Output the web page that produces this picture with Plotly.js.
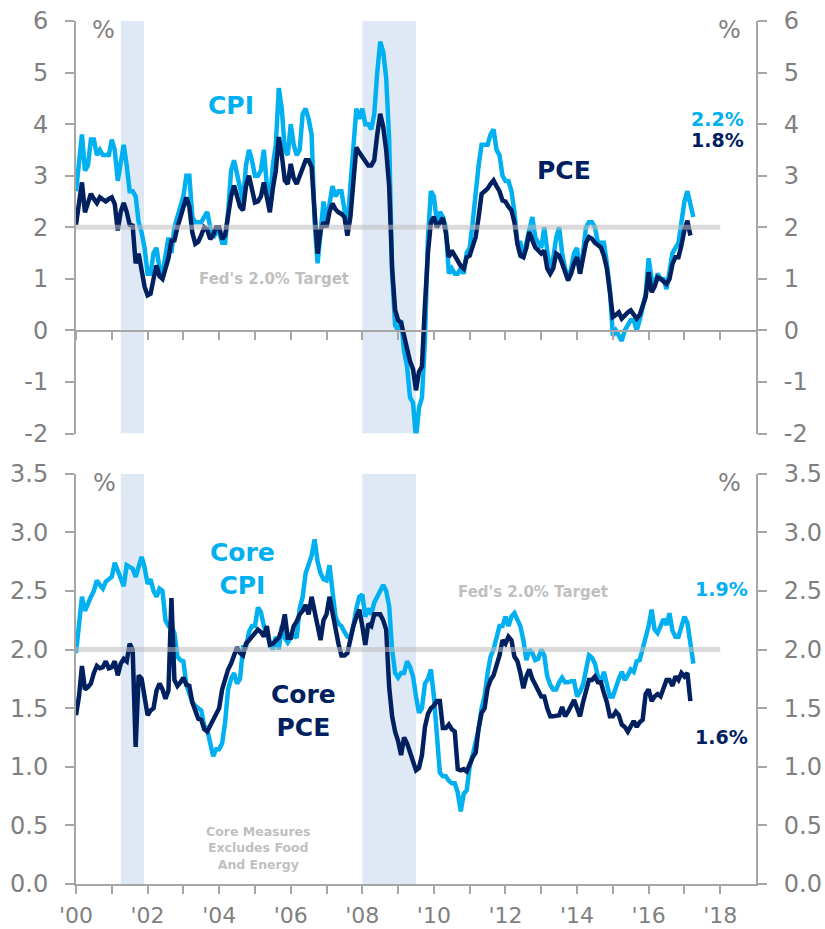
<!DOCTYPE html>
<html><head><meta charset="utf-8">
<script src="https://cdn.plot.ly/plotly-3.0.1.min.js"></script>
<style>html,body{margin:0;padding:0;background:#fff}#chart{width:825px;height:929px}</style>
</head><body><div id="chart"></div>
<script>
const startYear = 2000;

// Headline CPI, y/y %, monthly Jan 2000 - Apr 2017
const cpi = [
 2.7,3.2,3.8,3.1,3.2,3.7,3.7,3.4,3.5,3.4,3.4,3.4,
 3.7,3.5,2.9,3.3,3.6,3.2,2.7,2.7,2.6,2.1,1.9,1.6,
 1.1,1.1,1.5,1.6,1.2,1.1,1.5,1.8,1.5,2.0,2.2,2.4,
 2.6,3.0,3.0,2.2,2.1,2.1,2.1,2.2,2.3,2.0,1.8,1.9,
 1.9,1.7,1.7,2.3,3.1,3.3,3.0,2.7,2.5,3.2,3.5,3.3,
 3.0,3.0,3.1,3.5,2.8,2.5,3.2,3.6,4.7,4.3,3.5,3.4,
 4.0,3.6,3.4,3.5,4.2,4.3,4.1,3.8,2.1,1.3,2.0,2.5,
 2.1,2.4,2.8,2.6,2.7,2.7,2.4,2.0,2.8,3.5,4.3,4.1,
 4.3,4.0,4.0,3.9,4.2,5.0,5.6,5.4,4.9,3.7,1.1,0.1,
 0.0,0.2,-0.4,-0.7,-1.3,-1.4,-2.1,-1.5,-1.3,-0.2,1.8,2.7,
 2.6,2.1,2.3,2.2,2.0,1.1,1.2,1.1,1.1,1.2,1.1,1.5,
 1.6,2.1,2.7,3.2,3.6,3.6,3.6,3.8,3.9,3.5,3.4,3.0,
 2.9,2.9,2.7,2.3,1.7,1.7,1.4,1.7,2.0,2.2,1.8,1.7,
 1.6,2.0,1.5,1.1,1.4,1.8,2.0,1.5,1.2,1.0,1.2,1.5,
 1.6,1.1,1.5,2.0,2.1,2.1,2.0,1.7,1.7,1.7,1.3,0.8,
 -0.1,0.0,-0.1,-0.2,0.0,0.1,0.2,0.2,0.0,0.2,0.5,0.7,
 1.4,1.0,0.9,1.1,1.0,1.0,0.8,1.1,1.5,1.6,1.7,2.1,
 2.5,2.7,2.4,2.2
];

// Headline PCE, y/y %, monthly Jan 2000 - Mar 2017
const pce = [
 2.05,2.45,2.87,2.29,2.45,2.65,2.55,2.47,2.58,2.55,2.5,2.55,
 2.58,2.45,1.94,2.3,2.47,2.3,2.05,2.03,1.3,1.49,1.2,0.85,
 0.68,0.71,1.0,1.26,1.05,1.0,1.2,1.4,1.74,1.75,2.0,2.2,
 2.4,2.58,2.4,1.9,1.68,1.72,1.85,2.0,1.95,1.77,1.85,2.0,
 2.0,1.77,1.85,2.2,2.6,2.81,2.6,2.4,2.33,2.8,3.0,2.75,
 2.48,2.5,2.6,2.87,2.55,2.29,2.75,3.1,3.75,3.4,2.91,2.84,
 3.23,2.95,2.84,3.0,3.2,3.3,3.3,3.17,2.3,1.49,1.94,2.1,
 2.0,2.3,2.46,2.35,2.29,2.26,2.2,1.84,2.2,3.0,3.55,3.45,
 3.36,3.25,3.2,3.2,3.3,3.8,4.2,3.95,3.5,2.8,1.2,0.4,
 0.2,0.15,-0.1,-0.3,-0.6,-0.75,-1.16,-0.8,-0.7,0.5,1.5,2.1,
 2.2,2.0,2.1,2.18,1.9,1.42,1.55,1.45,1.35,1.25,1.2,1.42,
 1.45,1.6,1.81,2.2,2.65,2.7,2.75,2.84,2.91,2.8,2.7,2.52,
 2.5,2.4,2.33,2.1,1.68,1.45,1.42,1.6,1.91,1.75,1.61,1.55,
 1.49,1.55,1.2,1.1,1.2,1.49,1.45,1.3,1.1,0.97,1.1,1.3,
 1.42,1.1,1.4,1.7,1.81,1.78,1.7,1.65,1.61,1.45,1.2,0.75,
 0.26,0.3,0.35,0.23,0.3,0.35,0.39,0.3,0.23,0.3,0.45,0.65,
 1.13,0.74,0.85,1.03,1.0,0.95,0.9,1.0,1.29,1.42,1.42,1.65,
 1.95,2.13,1.84
];

// Core CPI, y/y %, monthly Jan 2000 - Apr 2017
const coreCpi = [
 1.97,2.2,2.45,2.33,2.4,2.45,2.5,2.59,2.55,2.52,2.58,2.6,
 2.62,2.74,2.68,2.6,2.54,2.72,2.7,2.69,2.62,2.7,2.79,2.7,
 2.56,2.6,2.5,2.45,2.52,2.5,2.25,2.2,2.2,2.14,1.94,1.91,
 1.9,1.7,1.63,1.55,1.52,1.5,1.48,1.35,1.32,1.2,1.09,1.15,
 1.15,1.2,1.38,1.66,1.75,1.8,1.71,1.75,2.02,2.02,2.15,2.2,
 2.2,2.36,2.32,2.2,2.14,2.05,2.0,2.11,2.0,2.2,2.1,2.06,
 2.1,2.12,2.1,2.35,2.45,2.65,2.72,2.8,2.94,2.75,2.65,2.6,
 2.59,2.72,2.5,2.28,2.22,2.2,2.15,2.11,2.1,2.2,2.35,2.45,
 2.47,2.28,2.35,2.3,2.4,2.45,2.5,2.55,2.5,2.37,2.0,1.8,
 1.76,1.8,1.8,1.9,1.85,1.77,1.6,1.46,1.5,1.71,1.75,1.83,
 1.6,1.29,0.95,0.92,0.92,0.88,0.86,0.86,0.78,0.62,0.77,0.8,
 1.0,1.1,1.2,1.32,1.5,1.6,1.8,1.94,2.0,2.1,2.2,2.2,
 2.28,2.2,2.28,2.31,2.25,2.2,2.08,1.91,2.0,1.97,1.91,1.92,
 2.0,1.95,1.77,1.7,1.66,1.66,1.72,1.76,1.72,1.72,1.73,1.73,
 1.6,1.64,1.7,1.82,1.95,1.93,1.88,1.77,1.72,1.81,1.72,1.6,
 1.6,1.69,1.75,1.81,1.74,1.78,1.83,1.81,1.9,1.91,2.0,2.1,
 2.2,2.34,2.17,2.14,2.2,2.26,2.21,2.31,2.16,2.11,2.11,2.2,
 2.28,2.23,2.03,1.88
];

// Core PCE, y/y %, monthly Jan 2000 - Mar 2017
const corePce = [
 1.44,1.6,1.86,1.66,1.68,1.71,1.8,1.86,1.84,1.85,1.9,1.84,
 1.85,1.9,1.78,1.88,1.92,1.9,2.05,2.0,1.17,1.78,1.75,1.6,
 1.44,1.48,1.5,1.65,1.71,1.66,1.58,1.65,2.44,1.74,1.69,1.72,
 1.76,1.7,1.69,1.55,1.48,1.41,1.4,1.32,1.3,1.35,1.38,1.43,
 1.5,1.66,1.75,1.83,1.88,1.94,2.02,1.97,1.95,2.05,2.08,2.12,
 2.15,2.17,2.15,2.11,2.2,2.04,2.05,2.07,2.1,2.17,2.3,2.1,
 2.1,2.2,2.24,2.3,2.33,2.38,2.3,2.45,2.32,2.2,2.08,2.25,
 2.3,2.45,2.3,2.17,2.05,1.95,1.95,1.97,2.1,2.2,2.28,2.34,
 2.2,2.04,2.22,2.2,2.3,2.3,2.3,2.25,2.17,1.68,1.43,1.3,
 1.22,1.1,1.25,1.2,1.12,1.05,0.97,0.99,1.1,1.34,1.45,1.5,
 1.52,1.56,1.56,1.33,1.33,1.36,1.32,1.3,0.98,0.97,0.98,0.96,
 1.03,1.08,1.12,1.33,1.46,1.5,1.67,1.74,1.78,1.86,1.95,2.08,
 2.05,2.11,2.08,1.94,1.9,1.8,1.67,1.77,1.83,1.75,1.69,1.65,
 1.6,1.6,1.5,1.43,1.43,1.44,1.44,1.51,1.43,1.47,1.52,1.57,
 1.5,1.43,1.55,1.63,1.74,1.74,1.77,1.72,1.72,1.63,1.55,1.43,
 1.43,1.47,1.44,1.36,1.34,1.30,1.35,1.39,1.34,1.38,1.4,1.62,
 1.66,1.56,1.6,1.62,1.6,1.66,1.74,1.74,1.69,1.77,1.74,1.8,
 1.77,1.8,1.56
];

const recessions = [[2001.25, 2001.9], [2008.0, 2009.5]];
const fedTarget = 2.0;
const targetEnd = 2018;
const tickYears = [2000,2001,2002,2003,2004,2005,2006,2007,2008,2009,2010,2011,2012,2013,2014,2015,2016,2017,2018];
const tickLabels = ["'00","","'02","","'04","","'06","","'08","","'10","","'12","","'14","","'16","","'18"];
const topTicks = [-2,-1,0,1,2,3,4,5,6];
const topTickText = ['-2','-1','0','1','2','3','4','5','6'];
const botTicks = [0,0.5,1,1.5,2,2.5,3,3.5];
const botTickText = ['0.0','0.5','1.0','1.5','2.0','2.5','3.0','3.5'];

const LIGHT = '#00b0f0', NAVY = '#002060', GRAY = '#7f7f7f', LGRAY = '#a6a6a6', NOTE = '#bfbfbf';
const FONT = 'DejaVu Sans, Verdana, sans-serif';

function months(n){ return Array.from({length:n}, (_, i) => startYear + i/12); }

function line(y, color, xa, ya){
  return {x: months(y.length), y: y, type:'scatter', mode:'lines', xaxis:xa, yaxis:ya,
    line:{color:color, width:4.5}, hoverinfo:'skip', showlegend:false};
}

const traces = [
  line(cpi, LIGHT, 'x2', 'y2'),
  line(pce, NAVY, 'x2', 'y2'),
  line(coreCpi, LIGHT, 'x', 'y'),
  line(corePce, NAVY, 'x', 'y'),
  {x:[2000], y:[null], xaxis:'x2', yaxis:'y3', type:'scatter', mode:'lines', showlegend:false, hoverinfo:'skip'},
  {x:[2000], y:[null], xaxis:'x', yaxis:'y4', type:'scatter', mode:'lines', showlegend:false, hoverinfo:'skip'}
];

// plot area pixel frame: left 76, right 756, top 21, bottom 884
const L=76, R=756, T=21, B=884;
function P(px, py){ return {x:(px-L)/(R-L), y:(B-py)/(B-T)}; }
function ann(text, px, py, size, color){
  const p = P(px, py);
  return {text:text, x:p.x, y:p.y, xref:'paper', yref:'paper', xanchor:'center', yanchor:'middle',
    showarrow:false, font:{family:FONT, size:size, color:color}};
}

const annotations = [
  ann('%', 103, 30, 24, GRAY), ann('%', 729, 30, 24, GRAY),
  ann('%', 104, 483, 24, GRAY), ann('%', 729, 483, 24, GRAY),
  ann('<b>CPI</b>', 231, 106, 25, LIGHT),
  ann('<b>PCE</b>', 564, 170, 25, NAVY),
  ann('<b>2.2%</b>', 717, 119, 19, LIGHT),
  ann('<b>1.8%</b>', 717, 140, 19, NAVY),
  ann("<b>Fed's 2.0% Target</b>", 274, 279, 15, NOTE),
  ann("<b>Fed's 2.0% Target</b>", 533, 592, 15, NOTE),
  ann('<b>Core<br>CPI</b>', 242, 569, 25, LIGHT),
  ann('<b>Core<br>PCE</b>', 303, 711, 25, NAVY),
  ann('<b>1.9%</b>', 721, 589, 19, LIGHT),
  ann('<b>1.6%</b>', 721, 737, 19, NAVY),
  ann('<b>Core Measures<br>Excludes Food<br>And Energy</b>', 258, 848, 12.5, NOTE)
];

const shapes = [];
recessions.forEach(r => {
  shapes.push({type:'rect', xref:'x2', yref:'y2', x0:r[0], x1:r[1], y0:-2, y1:6, fillcolor:'#dfe9f5', line:{width:0}, layer:'below'});
  shapes.push({type:'rect', xref:'x', yref:'y', x0:r[0], x1:r[1], y0:0, y1:3.5, fillcolor:'#dfe9f5', line:{width:0}, layer:'below'});
});
shapes.push({type:'line', xref:'x2', yref:'y2', x0:startYear, x1:targetEnd, y0:fedTarget, y1:fedTarget, line:{color:'rgba(190,190,190,0.55)', width:5}, layer:'above'});
shapes.push({type:'line', xref:'x', yref:'y', x0:startYear, x1:targetEnd, y0:fedTarget, y1:fedTarget, line:{color:'rgba(190,190,190,0.55)', width:5}, layer:'above'});

const topDom = [(B-433.6)/(B-T), 1];
const botDom = [0, (B-473.7)/(B-T)];
const zeroPos = (B-330.5)/(B-T);

const xCommon = {range:[2000,2019], tickmode:'array', tickvals:tickYears, ticks:'outside', ticklen:8, tickwidth:2,
  tickcolor:LGRAY, showline:true, linecolor:LGRAY, linewidth:2, showgrid:false, zeroline:false,
  tickfont:{family:FONT, size:22, color:GRAY}, fixedrange:true};
const yCommon = {ticks:'outside', ticklen:9, tickwidth:2, tickcolor:LGRAY, showline:true, linecolor:LGRAY, linewidth:2,
  showgrid:false, zeroline:false, tickfont:{family:FONT, size:24, color:GRAY}, ticklabelstandoff:12, tickmode:'array', fixedrange:true};

const layout = {
  width:825, height:929, margin:{l:L, r:825-R, t:T, b:929-B},
  paper_bgcolor:'#fff', plot_bgcolor:'#fff', font:{family:FONT},
  xaxis: Object.assign({}, xCommon, {anchor:'y', ticktext:tickLabels, showticklabels:true, ticklabelstandoff:3}),
  xaxis2: Object.assign({}, xCommon, {anchor:'free', position:zeroPos, ticktext:tickLabels, showticklabels:false}),
  yaxis: Object.assign({}, yCommon, {domain:botDom, range:[0,3.5], anchor:'x', tickvals:botTicks, ticktext:botTickText}),
  yaxis4: Object.assign({}, yCommon, {domain:botDom, range:[0,3.5], anchor:'x', overlaying:'y', side:'right', tickvals:botTicks, ticktext:botTickText}),
  yaxis2: Object.assign({}, yCommon, {domain:topDom, range:[-2,6], anchor:'x2', tickvals:topTicks, ticktext:topTickText}),
  yaxis3: Object.assign({}, yCommon, {domain:topDom, range:[-2,6], anchor:'x2', overlaying:'y2', side:'right', tickvals:topTicks, ticktext:topTickText}),
  shapes:shapes, annotations:annotations, showlegend:false
};

Plotly.newPlot('chart', traces, layout, {displayModeBar:false, staticPlot:true});
</script></body></html>
